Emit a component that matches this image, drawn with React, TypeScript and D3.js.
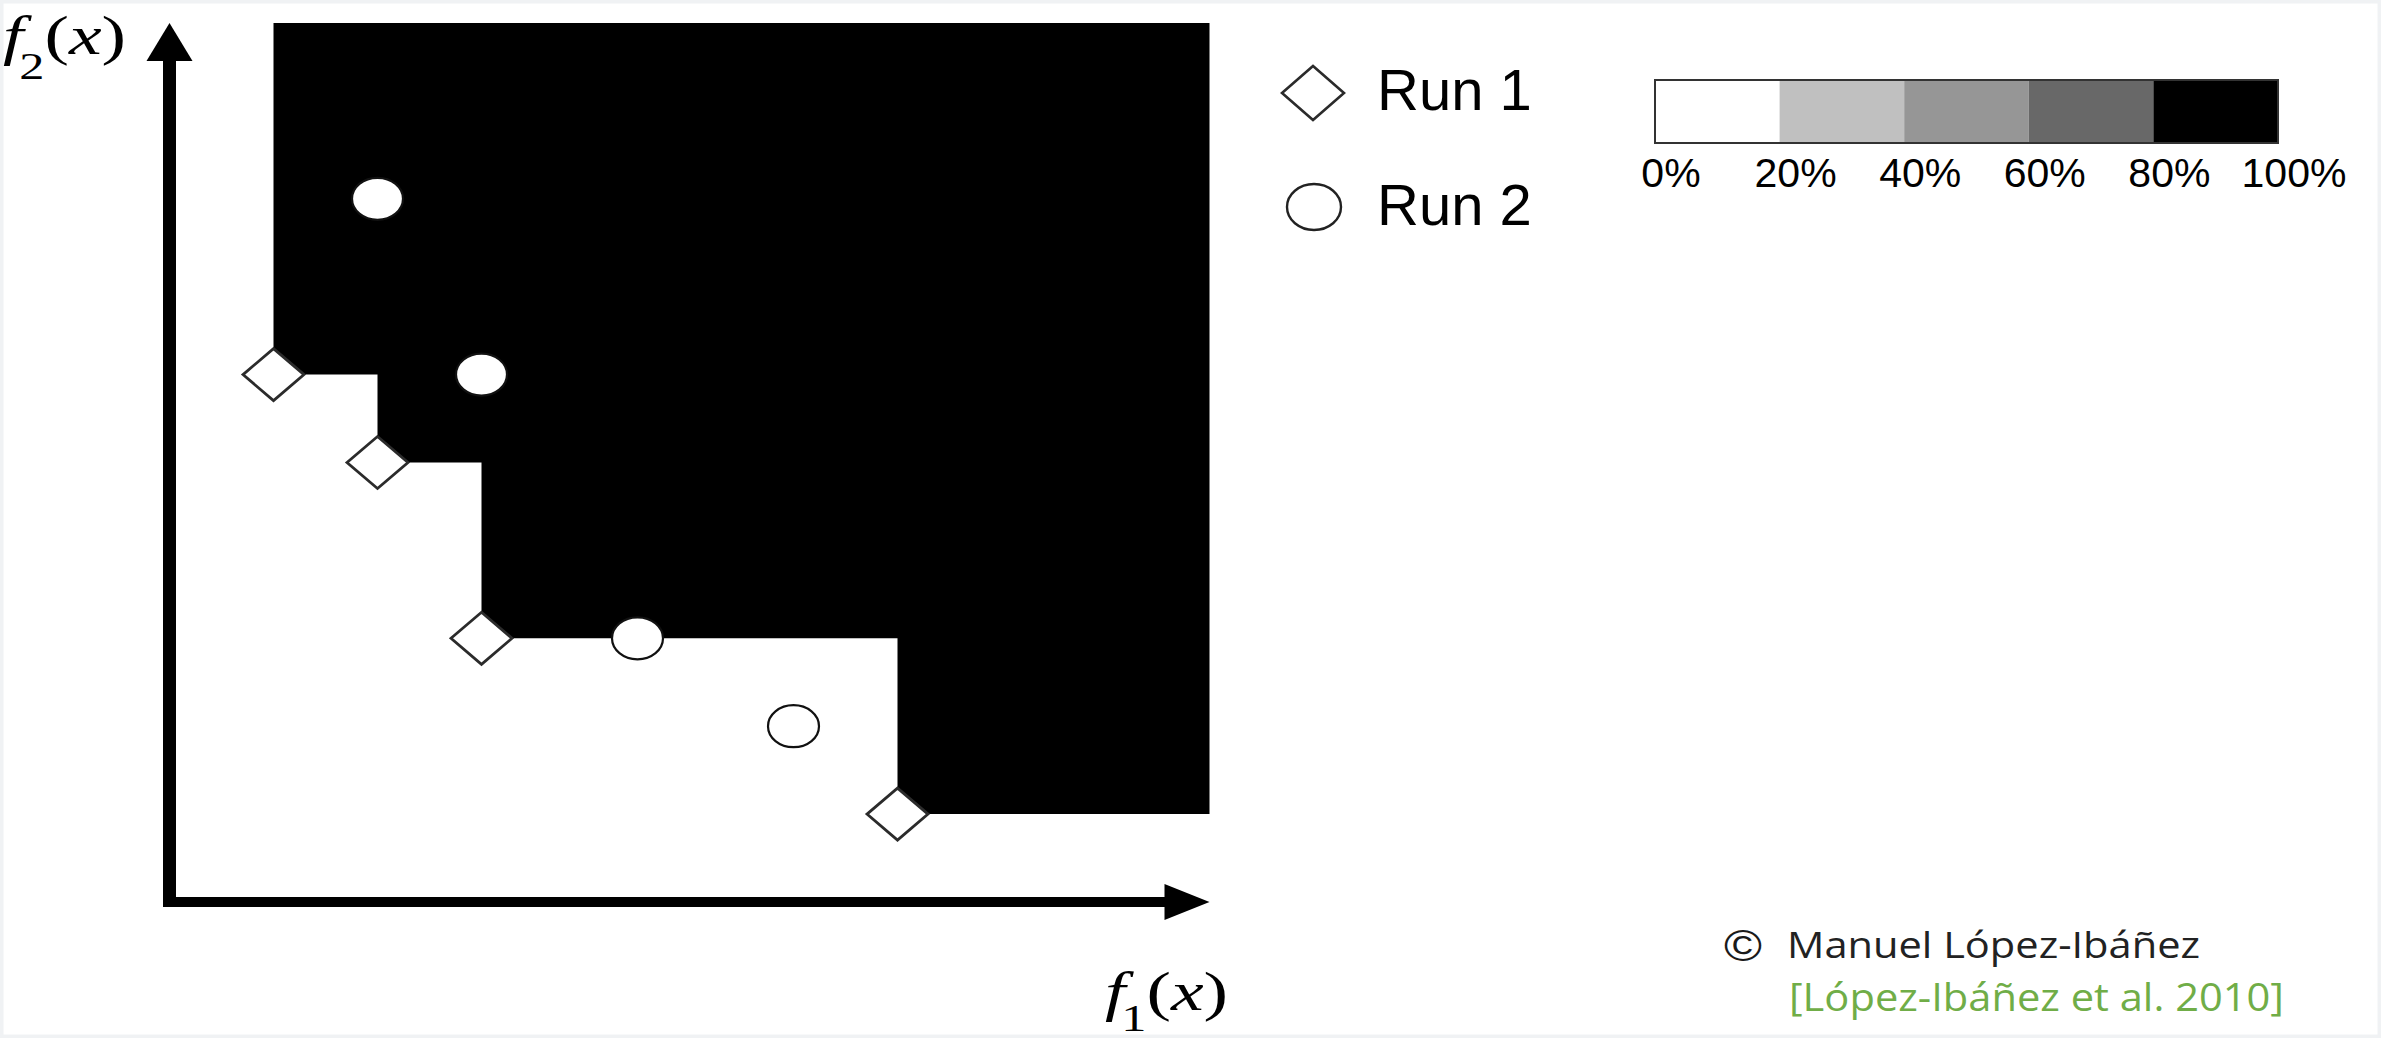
import React from "react";
import * as d3 from "d3";

// Run 1 and Run 2 outcomes (f1, f2)
const run1F1 = [1, 2, 3, 7];
const run1F2 = [6, 5, 3, 1];
const run2F1 = [2, 3, 4.5, 6];
const run2F2 = [8, 6, 3, 2];

const legendLabels = ["Run 1", "Run 2"];
const levelStops = [0, 20, 40, 60, 80, 100];
const levelLabels = ["0%", "20%", "40%", "60%", "80%", "100%"];
const levelColors = ["#ffffff", "#c0c0c0", "#969696", "#686868", "#000000"];

const W = 2381;
const H = 1038;

export default function App() {
  const x = d3.scaleLinear().domain([0, 10]).range([169.5, 1209.5]);
  const y = d3.scaleLinear().domain([0, 10]).range([902, 23]);

  // region attained by run 1 (100%)
  const pts = run1F1.map((f, i) => [f, run1F2[i]] as [number, number]);
  const poly: [number, number][] = [[pts[0][0], 10]];
  pts.forEach((p, i) => {
    poly.push(p);
    const nx = i < pts.length - 1 ? pts[i + 1][0] : 10;
    poly.push([nx, p[1]]);
  });
  poly.push([10, 10]);
  const area = d3
    .line<[number, number]>()
    .x((d) => x(d[0]))
    .y((d) => y(d[1]))(poly) + "Z";

  const diamond = (cx: number, cy: number, hw = 30.5, hh = 26) =>
    `M${cx - hw},${cy}L${cx},${cy - hh}L${cx + hw},${cy}L${cx},${cy + hh}Z`;

  const bar = d3.scaleLinear().domain([0, 100]).range([1655, 2278]);

  const ax = x(0);
  const ay = y(0);

  return (
    <svg
      width={W}
      height={H}
      style={{ position: "absolute", left: 0, top: 0, background: "#fff" }}
    >
      <rect x={0} y={0} width={W} height={H} fill="none" stroke="#f0f2f4" strokeWidth={7} />

      <path d={area} fill="#000" />

      {/* axes */}
      <rect x={ax - 6.5} y={y(10) + 30} width={13} height={ay - y(10) - 25} fill="#000" />
      <path d={`M${ax},${y(10)}L${ax + 23},${y(10) + 38}L${ax - 23},${y(10) + 38}Z`} fill="#000" />
      <rect x={ax - 6.5} y={ay - 5} width={x(10) - ax - 35} height={10} fill="#000" />
      <path d={`M${x(10)},${ay}L${x(10) - 45},${ay - 18}L${x(10) - 45},${ay + 18}Z`} fill="#000" />

      {run2F1.map((f, i) => (
        <ellipse
          key={"c" + i}
          cx={x(f)}
          cy={y(run2F2[i])}
          rx={25.5}
          ry={21}
          fill="#fff"
          stroke="#111"
          strokeWidth={2.2}
        />
      ))}
      {run1F1.map((f, i) => (
        <path
          key={"d" + i}
          d={diamond(x(f), y(run1F2[i]))}
          fill="#fff"
          stroke="#2b2b2b"
          strokeWidth={2.8}
        />
      ))}

      {/* axis labels */}
      <text
        transform="translate(3,54) scale(1.36,1)"
        fontFamily="'Liberation Serif', serif"
        fontSize={54}
        fill="#000"
      >
        <tspan fontStyle="italic">f</tspan>
        <tspan fontSize={37} dy={25} dx={-3}>2</tspan>
        <tspan dy={-25}>(</tspan>
        <tspan fontStyle="italic">x</tspan>
        <tspan>)</tspan>
      </text>
      <text
        transform="translate(1105,1010) scale(1.36,1)"
        fontFamily="'Liberation Serif', serif"
        fontSize={54}
        fill="#000"
      >
        <tspan fontStyle="italic">f</tspan>
        <tspan fontSize={37} dy={21} dx={-3}>1</tspan>
        <tspan dy={-21}>(</tspan>
        <tspan fontStyle="italic">x</tspan>
        <tspan>)</tspan>
      </text>

      {/* legend */}
      <path d={diamond(1313, 93, 31, 27)} fill="#fff" stroke="#2b2b2b" strokeWidth={2.6} />
      <ellipse cx={1314} cy={207} rx={27} ry={23} fill="#fff" stroke="#222" strokeWidth={2.4} />
      {legendLabels.map((t, i) => (
        <text
          key={t}
          x={1377}
          y={110 + i * 115}
          fontFamily="'Liberation Sans', Arial, sans-serif"
          fontSize={58}
          fill="#000"
        >
          {t}
        </text>
      ))}

      {/* colour scale */}
      {levelColors.map((c, i) => (
        <rect
          key={c}
          x={bar(levelStops[i])}
          y={80}
          width={bar(levelStops[i + 1]) - bar(levelStops[i])}
          height={63}
          fill={c}
        />
      ))}
      <rect x={bar(0)} y={80} width={bar(100) - bar(0)} height={63} fill="none" stroke="#333" strokeWidth={2} />
      {levelStops.map((v, i) => (
        <text
          key={v}
          x={bar(v) + 16}
          y={187}
          textAnchor="middle"
          fontFamily="'Liberation Sans', Arial, sans-serif"
          fontSize={41}
          fill="#000"
        >
          {levelLabels[i]}
        </text>
      ))}

      {/* credit */}
      <text
        x={1724}
        y={961}
        fontFamily="'Liberation Sans', sans-serif"
        fontSize={44}
        fill="#1a1a1a"
        textLength={38}
        lengthAdjust="spacingAndGlyphs"
      >
        ©
      </text>
      <text
        x={1787}
        y={958}
        fontFamily="'Open Sans', sans-serif"
        fontSize={37}
        fill="#222"
        textLength={413}
        lengthAdjust="spacingAndGlyphs"
      >
        Manuel López-Ibáñez
      </text>
      <text
        x={1789}
        y={1011}
        fontFamily="'Open Sans', sans-serif"
        fontSize={38}
        fill="#70ad47"
        textLength={495}
        lengthAdjust="spacingAndGlyphs"
      >
        [López-Ibáñez et al. 2010]
      </text>
    </svg>
  );
}
